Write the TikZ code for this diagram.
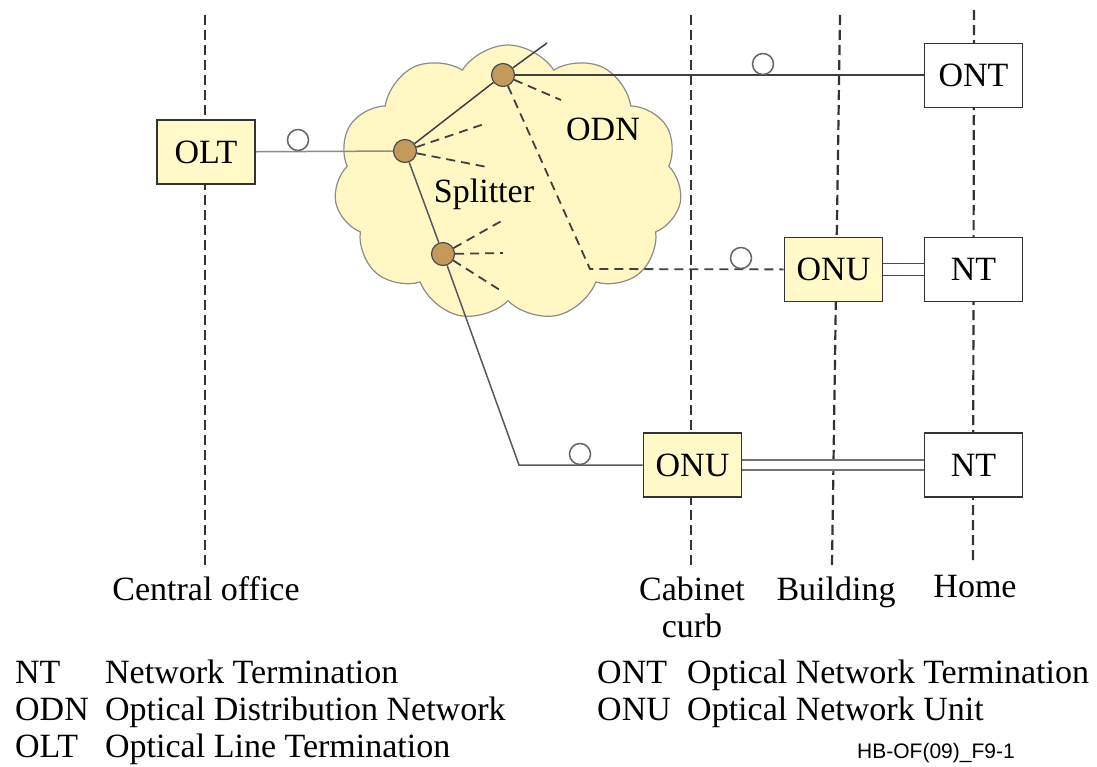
\documentclass[tikz,border=0pt]{standalone}
\usepackage{fontspec}
\setmainfont{Liberation Serif}
\setsansfont{Liberation Sans}
\usetikzlibrary{shapes.symbols}
\definecolor{boxyellow}{HTML}{FFFAC8}
\definecolor{cloudyellow}{HTML}{FFF8C4}
\definecolor{splittan}{HTML}{C49A5C}
\tikzset{
  every node/.style={font=\fontsize{34}{40}\selectfont},
  unit/.style={draw=black!80, line width=1.8pt, minimum width=98pt, minimum height=64pt, inner sep=0pt},
  yellowunit/.style={unit, fill=boxyellow},
  whiteunit/.style={unit, fill=white},
  splitter/.style={circle, draw=black!70, fill=splittan, line width=1.2pt, minimum size=23pt, inner sep=0pt},
  conn/.style={circle, draw=black!60, fill=white, line width=1.5pt, minimum size=21pt, inner sep=0pt},
  boundary/.style={line width=2.2pt, black!80, dash pattern=on 10pt off 5pt},
  fibre/.style={line width=1.5pt, black!75},
  stub/.style={line width=1.8pt, black!75, dash pattern=on 9pt off 6pt},
  copper/.style={double=white, line width=1.5pt, black!70},
  legend/.style={anchor=base west, inner sep=0pt},
}
\begin{document}
\begin{tikzpicture}[x=1pt,y=-1pt]
\useasboundingbox (0,0) rectangle (1097,766);
% boundaries
\draw[boundary] (205,15) -- (205,565);
\draw[boundary] (691,15) -- (691,565);
\draw[boundary] (840,15) -- (832,565);
\draw[boundary] (974,10) -- (973,560);
\node[anchor=base] (co) at (206,600) {Central office};
\node[anchor=base] (cab) at (692,600) {Cabinet};
\node[anchor=base] (curb) at (692,637) {curb};
\node[anchor=base] (bld) at (836,600) {Building};
\node[anchor=base] (home) at (975,597) {Home};
% ODN
\node[cloud, cloud puffs=11, cloud puff arc=115, aspect=1.25, draw=black!45, line width=1.2pt,
      fill=cloudyellow, minimum width=348pt, minimum height=276pt, inner sep=0pt] (odn) at (508,183) {};
\node[anchor=base] (odnlabel) at (603,140) {ODN};
\node[anchor=base] (splabel) at (484,202) {Splitter};
\node[splitter] (s1) at (405,151) {};
\node[splitter] (s2) at (503,75) {};
\node[splitter] (s3) at (443,254) {};
% units
\node[yellowunit] (olt) at (206,152) {OLT};
\node[whiteunit] (ont) at (973.5,75.5) {ONT};
\node[yellowunit] (onu1) at (833.5,269.5) {ONU};
\node[whiteunit] (nt1) at (973.5,269.5) {NT};
\node[yellowunit] (onu2) at (692.5,465) {ONU};
\node[whiteunit] (nt2) at (973.5,465) {NT};
\coordinate (tail) at (547,43);
\coordinate (bend1) at (590,269);
\coordinate (bend2) at (519,465);
\coordinate (st1) at (487,123);
\coordinate (st2) at (487,167);
\coordinate (st3) at (561,100);
\coordinate (st4) at (505,219);
\coordinate (st5) at (503,253);
\coordinate (st6) at (503,292);
% fibres
\draw[fibre, black!45] (olt) -- (s1);
\draw[fibre] (s1) -- (s2) -- (tail);
\draw[fibre] (s2) -- (s2 -| ont.west);
\draw[fibre, black!65] (s1) -- (s3) -- (bend2) -- (onu2);
\draw[stub] (s2) -- (bend1) -- (onu1);
\foreach \s/\e in {s1/st1, s1/st2, s2/st3, s3/st4, s3/st5, s3/st6}
  \draw[stub] (\s) -- (\e);
\draw[copper, double distance=10.5pt] (onu1) -- (nt1);
\draw[copper, black!55, double distance=8.5pt] (onu2) -- (nt2);
\node[conn] (c1) at (298,140) {};
\node[conn] (c2) at (763,64) {};
\node[conn] (c3) at (741,258) {};
\node[conn] (c4) at (580,454) {};
% legend
\node[legend] (k1) at (15,683) {NT};
\node[legend] (d1) at (105,683) {Network Termination};
\node[legend] (k2) at (15,720) {ODN};
\node[legend] (d2) at (105,720) {Optical Distribution Network};
\node[legend] (k3) at (15,757) {OLT};
\node[legend] (d3) at (105,757) {Optical Line Termination};
\node[legend] (k4) at (597,683) {ONT};
\node[legend] (d4) at (687,683) {Optical Network Termination};
\node[legend] (k5) at (597,720) {ONU};
\node[legend] (d5) at (687,720) {Optical Network Unit};
\node[legend, font=\sffamily\fontsize{21}{24}\selectfont] (fig) at (857,758) {HB-OF(09)\_F9-1};
\end{tikzpicture}
\end{document}
